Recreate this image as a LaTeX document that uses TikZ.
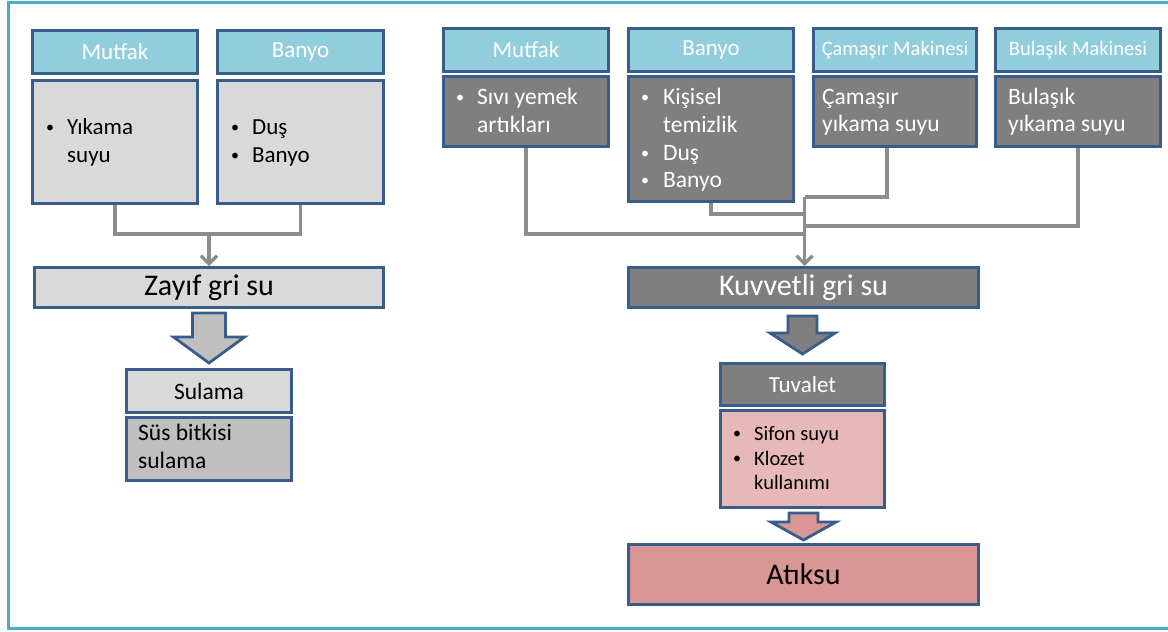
\documentclass[tikz,border=0pt]{standalone}
\usepackage{fontspec}
\setmainfont{Carlito}
\usetikzlibrary{arrows.meta,calc}
\definecolor{framec}{HTML}{4BACC6}
\definecolor{bord}{HTML}{385D8A}
\definecolor{headc}{HTML}{92CDDC}
\definecolor{lgray}{HTML}{D9D9D9}
\definecolor{mgray}{HTML}{BFBFBF}
\definecolor{dgray}{HTML}{7F7F7F}
\definecolor{pinkb}{HTML}{E6B9B8}
\definecolor{pinkd}{HTML}{D99694}
\definecolor{connc}{HTML}{8C8C8C}
\tikzset{
  box/.style={draw=bord, line width=3pt, inner sep=0pt, anchor=north west},
  hdr/.style={box, fill=headc, text=white},
  tx/.style={inner sep=0pt, anchor=base west},
  conn/.style={draw=connc, line width=3.2pt},
  arr/.style={-{Straight Barb[length=8pt,width=16pt,line width=3.2pt]}},
  blk/.style={draw=bord, line width=2.8pt, line join=miter},
  fA/.style={font=\fontsize{23}{27}\selectfont},
  fB/.style={font=\fontsize{23.5}{28}\selectfont},
  fC/.style={font=\fontsize{20.5}{24}\selectfont},
  fD/.style={font=\fontsize{30}{34}\selectfont},
}
\newcommand\bul{\raisebox{1.5pt}{\fontsize{16}{16}\selectfont•}}
\newcommand\blkarrow[6]{%
  \draw[blk, fill=#6] let \p1=(#1), \p2=(#2) in
    (\x2-#3,\y1) -- (\x2+#3,\y1) -- (\x2+#3,\y2+#5) -- (\x2+#4,\y2+#5) --
    (\x2,\y2) -- (\x2-#4,\y2+#5) -- (\x2-#3,\y2+#5) -- cycle;}
\begin{document}
\begin{tikzpicture}[x=1pt,y=1pt]
\useasboundingbox (0,0) rectangle (1168,-632);
\fill[white] (0,0) rectangle (1168,-632);
\draw[framec, line width=2.8pt] (1170,-2.5) -- (8.5,-2.5) -- (8.5,-628.5) -- (1170,-628.5);

% ---------- left part ----------
\node[hdr, fA, minimum width=165, minimum height=43] (lmh) at (31,-29) {Mutfak};
\node[hdr, fA, minimum width=166, minimum height=43] (lbh) at (216,-29) {Banyo};
\node[box, fill=lgray, minimum width=165, minimum height=123] (lmb) at (31,-79) {};
\node[box, fill=lgray, minimum width=166, minimum height=123] (lbb) at (216,-79) {};
\node[box, fill=lgray, fD, minimum width=349, minimum height=40] (zay) at (33,-266) {Zayıf gri su};
\node[box, fill=lgray, fB, minimum width=165, minimum height=43] (sul) at (125,-368) {Sulama};
\node[box, fill=mgray, minimum width=165, minimum height=63] (sus) at (125,-416) {};

\node[tx, fA] (lmb0) at (46,-134) {\bul};
\node[tx, fA] (lmb1) at (67,-134) {Yıkama};
\node[tx, fA] (lmb2) at (67,-162) {suyu};
\node[tx, fA] (lbb0) at (231,-134) {\bul};
\node[tx, fA] (lbb1) at (252,-134) {Duş};
\node[tx, fA] (lbb2) at (231,-162) {\bul};
\node[tx, fA] (lbb3) at (252,-162) {Banyo};
\node[tx, fB] (sus1) at (138,-440) {Süs bitkisi};
\node[tx, fB] (sus2) at (138,-468) {sulama};

\coordinate (lj) at ($(zay.north)+(0,32)$);
\draw[conn] (lmb.south) |- (lj) -| (lbb.south);
\draw[conn, arr] (lj) -- (zay.north);

\coordinate (a1t) at ($(zay.south)+(0,-4)$);
\coordinate (a1b) at ($(sul.north)+(0,5)$);
\blkarrow{a1t}{a1b}{16.5}{35.5}{26}{mgray}

% ---------- right part ----------
\node[hdr, fA, minimum width=165, minimum height=43] (rmh) at (442,-27) {Mutfak};
\node[hdr, fA, minimum width=165, minimum height=43] (rbh) at (627,-27) {Banyo};
\node[hdr, fC, minimum width=163, minimum height=43] (rch) at (812,-27) {Çamaşır Makinesi};
\node[hdr, fC, minimum width=165, minimum height=43] (rdh) at (994,-27) {Bulaşık Makinesi};
\node[box, fill=dgray, minimum width=165, minimum height=70] (rmb) at (442,-75) {};
\node[box, fill=dgray, minimum width=165, minimum height=125] (rbb) at (627,-75) {};
\node[box, fill=dgray, minimum width=163, minimum height=70] (rcb) at (812,-75) {};
\node[box, fill=dgray, minimum width=165, minimum height=70] (rdb) at (994,-75) {};
\node[box, fill=dgray, text=white, fD, minimum width=350, minimum height=40] (kuv) at (627,-266) {Kuvvetli gri su};
\node[box, fill=dgray, text=white, fA, minimum width=164, minimum height=42] (tuv) at (719,-362) {Tuvalet};
\node[box, fill=pinkb, minimum width=164, minimum height=97] (tb) at (719,-409) {};
\node[box, fill=pinkd, fD, minimum width=350, minimum height=60] (atk) at (627,-543) {Atıksu};

\begin{scope}[text=white]
\node[tx, fB] (rmb0) at (456,-104) {\bul};
\node[tx, fB] (rmb1) at (477,-104) {Sıvı yemek};
\node[tx, fB] (rmb2) at (477,-132) {artıkları};
\node[tx, fB] (rbb0) at (641,-104) {\bul};
\node[tx, fB] (rbb1) at (663,-104) {Kişisel};
\node[tx, fB] (rbb2) at (663,-132) {temizlik};
\node[tx, fB] (rbb3) at (641,-160) {\bul};
\node[tx, fB] (rbb4) at (663,-160) {Duş};
\node[tx, fB] (rbb5) at (641,-187) {\bul};
\node[tx, fB] (rbb6) at (663,-187) {Banyo};
\node[tx, fB] (rcb1) at (822,-104) {Çamaşır};
\node[tx, fB] (rcb2) at (822,-131) {yıkama suyu};
\node[tx, fB] (rdb1) at (1008,-104) {Bulaşık};
\node[tx, fB] (rdb2) at (1008,-131) {yıkama suyu};
\end{scope}
\node[tx, fC] (tb0) at (733,-440) {\bul};
\node[tx, fC] (tb1) at (754,-440) {Sifon suyu};
\node[tx, fC] (tb2) at (733,-465) {\bul};
\node[tx, fC] (tb3) at (754,-465) {Klozet};
\node[tx, fC] (tb4) at (754,-489) {kullanımı};

\coordinate (rj1) at ($(kuv.north)+(1,69)$);
\coordinate (rj2) at ($(kuv.north)+(1,52)$);
\coordinate (rj3) at ($(kuv.north)+(1,40)$);
\coordinate (rj4) at ($(kuv.north)+(1,32)$);
\draw[conn] ([xshift=-8pt]rcb.south) |- (rj1);
\draw[conn] (rbb.south) |- (rj2);
\draw[conn] (rdb.south) |- (rj3);
\draw[conn] (rmb.south) |- (rj4);
\draw[conn, arr] (rj1) -- (kuv.north -| rj1);

\coordinate (a2t) at ($(kuv.south)+(0,-7)$);
\coordinate (a2b) at ($(tuv.north)+(0,8)$);
\blkarrow{a2t}{a2b}{14.5}{32.5}{21}{dgray}
\coordinate (a3t) at ($(tb.south)+(0,-4)$);
\coordinate (a3b) at ($(atk.north)+(0,3)$);
\blkarrow{a3t}{a3b}{14.5}{32.5}{18}{pinkd}
\end{tikzpicture}
\end{document}
